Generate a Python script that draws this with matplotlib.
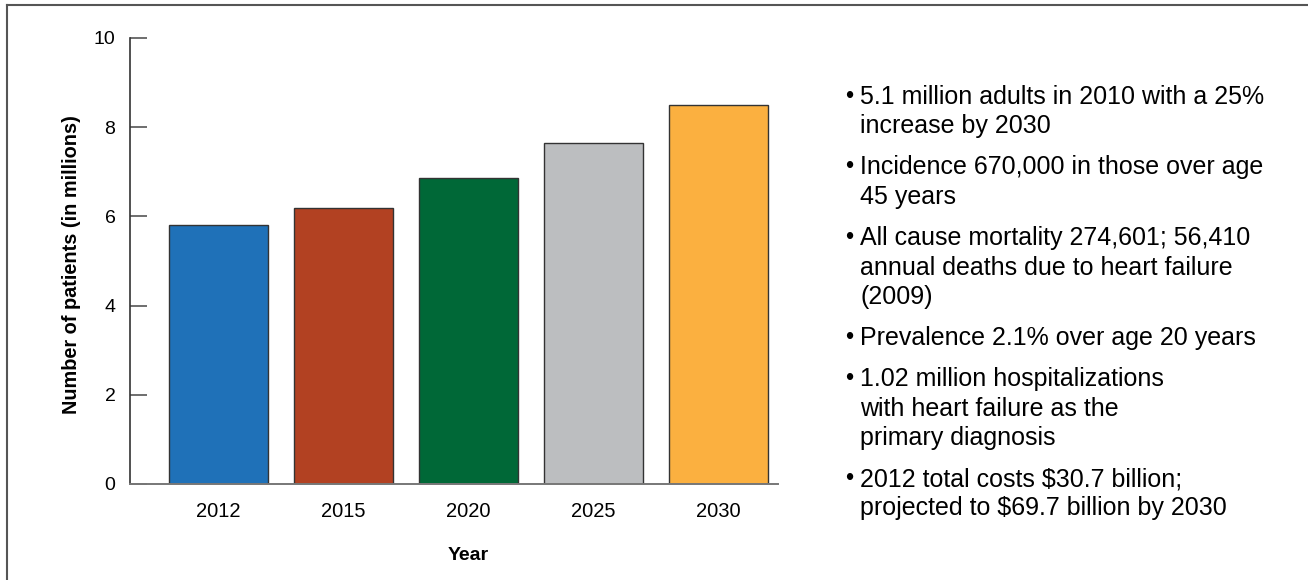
import matplotlib
matplotlib.use("Agg")
import matplotlib.pyplot as plt
from matplotlib.lines import Line2D

plt.rcParams['font.family'] = ['Liberation Sans', 'DejaVu Sans']

years = ["2012", "2015", "2020", "2025", "2030"]
patients = [5.81, 6.19, 6.86, 7.65, 8.49]
bar_colors = ["#1f71b8", "#b24122", "#006837", "#bcbec0", "#fbb040"]
yticks = [0, 2, 4, 6, 8, 10]
bullets = [
    ["5.1 million adults in 2010 with a 25%", "increase by 2030"],
    ["Incidence 670,000 in those over age", "45 years"],
    ["All cause mortality 274,601; 56,410", "annual deaths due to heart failure", "(2009)"],
    ["Prevalence 2.1% over age 20 years"],
    ["1.02 million hospitalizations", "with heart failure as the", "primary diagnosis"],
    ["2012 total costs $30.7 billion;", "projected to $69.7 billion by 2030"],
]

W, H = 1308, 580
fig = plt.figure(figsize=(W / 100, H / 100), dpi=100)
fig.patch.set_facecolor("white")

ax_l, ax_r, ax_t, ax_b = 130, 778, 38, 484
ax = fig.add_axes([ax_l / W, (H - ax_b) / H, (ax_r - ax_l) / W, (ax_b - ax_t) / H])

x = list(range(len(years)))
ax.bar(x, patients, width=0.792, color=bar_colors, edgecolor="#333333", linewidth=1.0, zorder=2)
ax.set_xlim(-0.708, 4.476)
ax.set_ylim(0, 10)
ax.set_yticks(yticks)
ax.set_yticklabels([str(v) for v in yticks], fontsize=14)
ax.set_xticks(x)
ax.set_xticklabels(years, fontsize=14.5)
ax.tick_params(axis="y", direction="in", length=12, width=1.2, color="#555555", pad=10.5)
ax.tick_params(axis="x", length=0, pad=13)
for s in ["top", "right"]:
    ax.spines[s].set_visible(False)
ax.spines["left"].set_color("#333333")
ax.spines["left"].set_linewidth(1.2)
ax.spines["bottom"].set_color("#777777")
ax.spines["bottom"].set_linewidth(1.4)

ax.set_ylabel("Number of patients (in millions)", fontsize=14.3, fontweight="bold")
ax.yaxis.set_label_coords((72 - ax_l) / (ax_r - ax_l), (ax_b - 265) / (ax_b - ax_t))
ax.yaxis.label.set_va("center")
ax.text(2, (ax_b - 555) / (ax_b - ax_t), "Year", transform=ax.get_xaxis_transform(),
        ha="center", va="center", fontsize=14, fontweight="bold")

# bullet list
line_h = 29.5
item_gap = 41
y = 97
for item in bullets:
    fig.text(849 / W, 1 - y / H, "•", fontsize=17, ha="center", va="center")
    for j, line in enumerate(item):
        fig.text(860 / W, 1 - (y + j * line_h) / H, line, fontsize=18, ha="left", va="center")
    y += (len(item) - 1) * line_h + item_gap

# outer frame (top and left edges)
fig.add_artist(Line2D([7 / W, 1], [1 - 5 / H, 1 - 5 / H], transform=fig.transFigure, color="#555555", linewidth=1.5))
fig.add_artist(Line2D([7 / W, 7 / W], [0, 1 - 5 / H], transform=fig.transFigure, color="#555555", linewidth=1.5))

fig.savefig("out.png", dpi=100)
